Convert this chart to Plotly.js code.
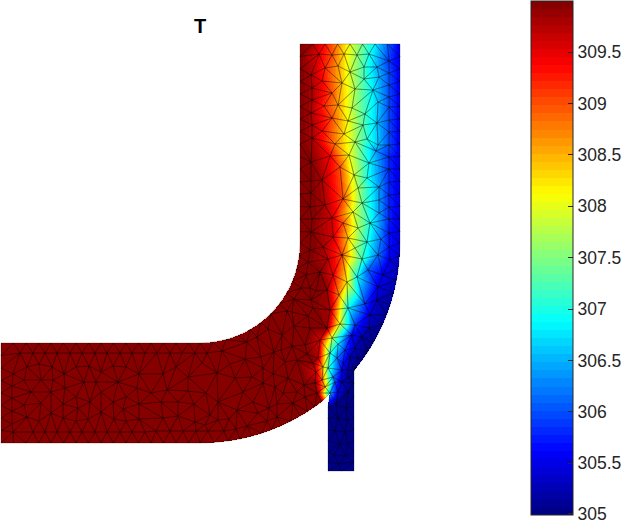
<!DOCTYPE html>
<html>
<head>
<meta charset="utf-8">
<script src="https://cdn.plot.ly/plotly-3.0.1.min.js"></script>
<style>html,body{margin:0;padding:0;background:#fff}#chart{width:624px;height:522px}</style>
</head>
<body>
<div id="chart"></div>
<script>
// ---- data: mesh nodes ----
const titleText = 'T';
const tickValues = [305.012,305.5,306,306.5,307,307.5,308,308.5,309,309.5];
const tickLabels = ['305','305.5','306','306.5','307','307.5','308','308.5','309','309.5'];
const tempMin = 305, tempMax = 310;

// nodes at the hot end of the scale: [x, y]
const hotBoundary = [
[1,343],[13.5,343],[26,343],[38.5,343],[51,343],[63.5,343],[76,343],[88.5,343],[101,343],[113.5,343],[126,343],[138.5,343],[151,343],[163.5,343],[176,343],[188.5,343],[200,343],
[1,443],[13.5,443],[26,443],[38.5,443],[51,443],[63.5,443],[76,443],[88.5,443],[101,443],[113.5,443],[126,443],[138.5,443],[151,443],[163.5,443],[176,443],[188.5,443],[200,443],
[1,355.5],[1,368],[1,380.5],[1,393],[1,405.5],[1,418],[1,430.5],
[213.1,342.1],[225.9,339.6],[238.3,335.4],[250,329.6],[260.9,322.3],[270.7,313.7],[279.3,303.9],[286.6,293],[292.4,281.3],[296.6,268.9],[299.1,256.1],[300,243],
[300,231.5],[300,219],[300,206.5],[300,194],[300,181.5],[300,169],[300,156.5],[300,144],[300,131.5],[300,119],[300,106.5],[300,94],[300,81.5],[300,69],[300,56.5],[300,44],
[214,442.5],[227.8,441],[239.9,439],[251.8,436.2],[261.8,433.2],[271.7,429.7],[281.3,425.7],[290.8,421.2],[300,416.2],[307.5,411.7],[314.7,406.8]
];
const hotInterior = [
[20,353],[33,353],[45,353],[57,353],[70,353],[82,353],[95,353],[107,353],[120,353],[132,353],[145,353],
[27,367],[39,364],[52,367],[76,367],[89,366],[101,372],[113,366],[126,367],[139,374],[13,374],[24,380],[41,380],[53,380],[64,374],[84,382],[96,382],[118,382],[137,388],[12,386],[65,388],[31,392],[51,392],[76,397],[101,392],[126,397],[12,398],[41,403],[63,404],[90,402],[113,402],[139,404],[24,405],[12,411],[78,408],[123,409],[51,413],[101,412],[27,417],[63,418],[76,421],[88,419],[114,419],[126,421],[139,419],[39,421],[12,424],
[13,432],[33,432],[45,432],[57,432],[70,432],[82,432],[95,432],[107,432],[120,432],[132,432],[145,432],
[157,353],[170,353],[182,353],[195,353],[207,353],[163,374],[188,377],[217,373],[235,378],[252,377],[245,359],[230,364],[176,367],[202,363],[222,351],[247,342],[257,337],[268,329],[282,335],[261,357],[274,352],[263,368],[281,350],[292,346],[294,326],[287,311],[308,316],[294,299],[311,300],[301,288],[316,291],[306,275],[308,262],[317,273],
[307,354],[297,360],[313,363],[288,378],[273,374],[275,387],[263,383],[243,392],[218,402],[206,393],[188,391],[167,390],[151,393],[161,402],[178,402],[194,404],[237,410],[253,402],[258,413],[277,404],[283,393],[297,392],[304,385],[315,383],[305,397],[317,393],[293,403],[277,417],[267,421],[247,426],[236,429],[229,419],[218,420],[210,415],[205,425],[195,422],[178,416],[163,418],[156,431],[170,431],[183,431],[196,431],[208,431],[224,431],[269,408],
[311,162],[311,181],[311,193],[310,207],[312,219],[311,232],[310,250],[305,275],[310,288],[295,325],[313,308],[310,328],[305,345],[285,362],[300,360],[292,312]
];
// nodes on the temperature front: [x, y, T]
const frontNodes = [
[312.5,44,309.8],[325,44,309.3],[337.5,44,308.7],[350,44,308],[362.5,44,307.4],[375,44,306.8],[387.5,44,306.1],[400,44,305.5],
[400,56.5,305.5],[400,69,305.5],[400,81.5,305.5],[400,94,305.5],[400,106.5,305.5],[400,119,305.5],[400,131.5,305.5],[400,144,305.5],[400,156.5,305.5],[400,169,305.5],[400,181.5,305.5],[400,194,305.5],[400,206.5,305.5],[400,219,305.4],[400,231.5,305.4],[400,243,305.4],
[399.6,255.6,305.35],[398.4,268.1,305.3],[396.5,280.5,305.25],[393.7,292.7,305.2],[390.2,304.8,305.15],[386.7,314.7,305.1],[382.7,324.3,305.1],[378.2,333.8,305.05],[373.2,343,305.05],[367.7,351.9,305],[361.8,360.6,305],[354.1,370.5,305],
[319,54,309.5],[332,55,309],[344,54,308.3],[357,55,307.6],[369,54,307],[389,61,305.9],[325,68,309.2],[338,66,308.6],[350,72,307.9],[364,67,307.2],[377,67,306.5],[311,75,309.8],[322,81,309.4],[342,83,308.4],[364,79,307.2],[379,77,306.5],[389,73,306],[355,89,307.7],[373,90,306.8],[332,93,309],[312,88,309.8],[389,85,306],[338,105,308.6],[352,108,307.8],[324,106,309.2],[312,100,309.8],[378,102,306.6],[389,97,306],[365,114,307.2],[311,113,309.8],[332,118,309],[348,121,308.1],[389,107,306],[377,123,306.6],[363,125,307.3],[312,125,309.8],[322,131,309.4],[344,134,308.3],[367,139,307.1],[389,120,306],[389,132,306],[312,138,309.8],[335,144,308.8],[355,142,307.7],[378,145,306.6],[389,145,306],
[330,156,309.4],[340,167,309],[349,155,308.1],[369,163,306.9],[376,151,306.4],[389,157,305.8],[389,169,305.8],[322,180,309.8],[354,175,307.9],[367,178,307],[358,188,307.7],[379,187,306.4],[389,182,305.8],[343,199,309],[325,205,309.8],[362,203,307.4],[379,200,306.4],[389,195,305.8],[389,207,305.8],[353,212,308],[370,223,307],[332,218,309.6],[379,213,306.4],[343,223,309],[389,219,305.8],[358,228,307.7],[389,233,305.7],[333,237,309.6],[348,238,308.4],[367,242,307],[381,239,306.2],[323,247,309.85],[389,247,305.7],[355,248,307.7],[342,255,309],[378,255,306.2],[362,259,307.2],[390,260,305.5],[328,259,309.7],
[320,272,309.98],[333,275,309.5],[357,277,306.9],[368,270,306.1],[347,282,308.2],[383,275,305.5],[378,287,305.5],[327,290,309.9],[339,295,308.7],[365,304,305.9],[348,308,306.9],[377,300,305.3],[330,310,309.8],[340,324,308],[355,325,305.9],[370,315,305.4],[369,328,305.2],[327,328,309.9],[332,338,307.8],[352,335,305.6],[362,337,305.2],[320,340,309.6],[338,344,306.8],[345,350,305.9],[355,348,305.3],[318,358,309.8],[330,353,307.2],[337,358,306.2],[350,357,305.3],[358,358,305.1],[322,380,308.9],[316,372,309.6],[323,367,308.5],[328,368,307.3],[333,377,306.3],[335,382,306],[342,370,305.6],[348,370,305.2],[348,378,305.1],[342,382,305.3],[330,393,306.5],[325,387,308.5],[328,396.7,308],[338,392,305.5],[348,392,305.05],[343,363,305.7],[321.8,401.7,309.9]
];
// nodes of the narrow inlet, at the cold end: [x, y]
const coldNodes = [
[328,407],[328,418],[328,430],[328,441],[328,452],[328,462],[328,471],[341,471],[354,471],
[354,383],[354,396],[354,407],[354,418],[354,430],[354,441],[354,452],[354,462],
[336,405],[346,408],[338,418],[347,420],[335,431],[345,432],[340,444],[348,444],[334,455],[345,456],[339,464]
];

// ---- geometry of the domain, used only to clip the mesh ----
function inDomain(x,y){
  if (x>=328&&x<=354&&y>=370&&y<=471) return true;
  if (x>=1&&x<=200&&y>=343&&y<=443) return true;
  if (x>=300&&x<=400&&y>=44&&y<=243) return true;
  if (x>=200&&y>=243){ const r=Math.hypot(x-200,y-243); return r>=100&&r<=200; }
  return false;
}

// ---- collect nodes ----
const nodes = [];
function addNode(x,y,t){
  for (const n of nodes) if (Math.hypot(n[0]-x,n[1]-y)<4.5) return;
  nodes.push([x,y,t]);
}
hotBoundary.forEach(p=>addNode(p[0],p[1],310));
coldNodes.forEach(p=>addNode(p[0],p[1],305));
frontNodes.forEach(p=>addNode(p[0],p[1],p[2]));
hotInterior.forEach(p=>addNode(p[0],p[1],310));

// ---- Delaunay triangulation (Bowyer-Watson) ----
function triangulate(pts){
  const all=pts.concat([[-5000,-5000],[6000,-5000],[500,8000]]);
  const N=pts.length;
  function circ(a,b,c){
    const ax=all[a][0],ay=all[a][1],bx=all[b][0],by=all[b][1],cx=all[c][0],cy=all[c][1];
    const d=2*(ax*(by-cy)+bx*(cy-ay)+cx*(ay-by));
    const ux=((ax*ax+ay*ay)*(by-cy)+(bx*bx+by*by)*(cy-ay)+(cx*cx+cy*cy)*(ay-by))/d;
    const uy=((ax*ax+ay*ay)*(cx-bx)+(bx*bx+by*by)*(ax-cx)+(cx*cx+cy*cy)*(bx-ax))/d;
    return {a,b,c,ux,uy,r2:(ax-ux)*(ax-ux)+(ay-uy)*(ay-uy)};
  }
  let tris=[circ(N,N+1,N+2)];
  for(let i=0;i<N;i++){
    const [x,y]=all[i];
    const keep=[],edges=new Map();
    for(const t of tris){
      if((x-t.ux)*(x-t.ux)+(y-t.uy)*(y-t.uy)<t.r2){
        [[t.a,t.b],[t.b,t.c],[t.c,t.a]].forEach(([p,q])=>{
          const k=p<q?p+'_'+q:q+'_'+p;
          if(edges.has(k)) edges.set(k,null); else edges.set(k,[p,q]);
        });
      } else keep.push(t);
    }
    edges.forEach(e=>{ if(e) keep.push(circ(e[0],e[1],i)); });
    tris=keep;
  }
  return tris.filter(t=>t.a<N&&t.b<N&&t.c<N);
}
const tris=triangulate(nodes).filter(t=>{
  const a=nodes[t.a],b=nodes[t.b],c=nodes[t.c];
  return inDomain((a[0]+b[0]+c[0])/3,(a[1]+b[1]+c[1])/3);
});

// ---- field on a grid of the picture's resolution ----
const W=624,H=522;
const z=[];
for(let j=0;j<H;j++) z.push(new Array(W).fill(null));
const lx=[],ly=[];
tris.forEach(t=>{
  const A=nodes[t.a],B=nodes[t.b],C=nodes[t.c];
  const den=(B[1]-C[1])*(A[0]-C[0])+(C[0]-B[0])*(A[1]-C[1]);
  const x0=Math.max(0,Math.floor(Math.min(A[0],B[0],C[0]))-1),x1=Math.min(W-1,Math.ceil(Math.max(A[0],B[0],C[0]))+1);
  const y0=Math.max(0,Math.floor(Math.min(A[1],B[1],C[1]))-1),y1=Math.min(H-1,Math.ceil(Math.max(A[1],B[1],C[1]))+1);
  for(let j=y0;j<=y1;j++)for(let i=x0;i<=x1;i++){
    const px=i+0.5,py=j+0.5;
    const l1=((B[1]-C[1])*(px-C[0])+(C[0]-B[0])*(py-C[1]))/den;
    const l2=((C[1]-A[1])*(px-C[0])+(A[0]-C[0])*(py-C[1]))/den;
    const l3=1-l1-l2;
    if(l1>=-0.03&&l2>=-0.03&&l3>=-0.03&&inDomain(px,py)){
      z[j][i]=Math.min(tempMax,Math.max(tempMin,l1*A[2]+l2*B[2]+l3*C[2]));
    }
  }
  lx.push(A[0],B[0],C[0],A[0],null);
  ly.push(A[1],B[1],C[1],A[1],null);
});

// ---- 64-step jet colour map ----
function jet(v){
  const c=k=>Math.round(255*Math.max(0,Math.min(1,1.5-Math.abs(4*v-k))));
  return 'rgb('+c(3)+','+c(2)+','+c(1)+')';
}
const colorscale=[];
for(let i=0;i<64;i++){
  const c=jet((i+0.5)/64);
  colorscale.push([i/64,c],[(i+1)/64,c]);
}

const ink='#262626';
const fontFamily='"Liberation Sans", Arial, sans-serif';
Plotly.newPlot('chart',[
  {type:'heatmap',z:z,x0:0.5,dx:1,y0:0.5,dy:1,zmin:tempMin,zmax:tempMax,zauto:false,
   colorscale:colorscale,hoverinfo:'skip',hoverongaps:false,zsmooth:false,
   colorbar:{thickness:42,thicknessmode:'pixels',len:514,lenmode:'pixels',
     x:531/W,xanchor:'left',xpad:0,y:1-0.7/H,yanchor:'top',ypad:0,
     outlinewidth:1,outlinecolor:ink,borderwidth:0,
     tickmode:'array',tickvals:tickValues,ticktext:tickLabels,ticklabeloverflow:'allow',
     ticks:'inside',ticklen:5,tickwidth:1,tickcolor:ink,
     tickfont:{family:fontFamily,size:17.5,color:ink}}},
  {type:'scatter',mode:'lines',x:lx,y:ly,hoverinfo:'skip',showlegend:false,
   line:{color:'rgba(0,0,0,0.42)',width:0.6}}
],{
  width:W,height:H,margin:{l:0,r:0,t:0,b:0,pad:0,autoexpand:false},
  paper_bgcolor:'#fff',plot_bgcolor:'#fff',showlegend:false,
  title:{text:titleText,x:200/W,xref:'paper',xanchor:'center',y:1-26/H,yref:'paper',yanchor:'middle',
         font:{family:fontFamily,size:20,color:'#000',weight:700}},
  xaxis:{range:[0,W],visible:false,fixedrange:true},
  yaxis:{range:[H,0],visible:false,fixedrange:true}
},{displayModeBar:false,staticPlot:true});
</script>
</body>
</html>
